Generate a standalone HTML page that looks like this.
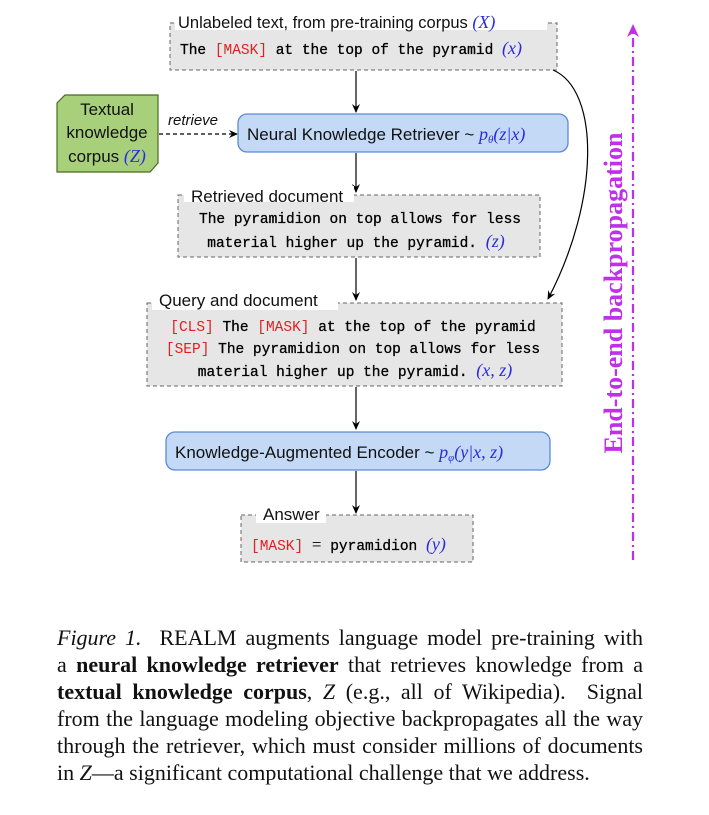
<!DOCTYPE html>
<html><head><meta charset="utf-8"><style>
body{margin:0;background:#fff;width:709px;height:815px;overflow:hidden;position:relative}
svg{position:absolute;left:0;top:0}
.cap{position:absolute;left:57px;width:586px;font-family:"Liberation Serif",serif;font-size:22px;color:#111;text-align:justify;text-align-last:justify;white-space:nowrap;line-height:27px}
</style></head><body>
<svg width="709" height="815" viewBox="0 0 709 815">
<defs>
<marker id="ah" markerWidth="10" markerHeight="10" refX="8" refY="5" orient="auto" markerUnits="userSpaceOnUse"><path d="M0,1 L9,5 L0,9 L3,5 Z" fill="#000"/></marker>
<marker id="ap" markerWidth="14" markerHeight="14" refX="11" refY="7" orient="auto" markerUnits="userSpaceOnUse"><path d="M0,1 L13,7 L0,13 L4,7 Z" fill="#c030e8"/></marker>
</defs>
<g font-family="Liberation Sans, sans-serif" font-size="16">
<rect x="170" y="23" width="387" height="47" fill="#e6e6e6" stroke="#666" stroke-dasharray="4,3"/>
<rect x="175" y="14" width="372" height="16" fill="#fff"/>
<text x="178" y="28" font-size="16.5" fill="#111">Unlabeled text, from pre-training corpus <tspan fill="#2a2ae0" font-family="Liberation Serif" font-style="italic" font-size="18">(X)</tspan></text>
<text x="180" y="54" font-family="Liberation Mono" font-size="14.5" fill="#000" stroke="#000" stroke-width="0.3">The <tspan fill="#e02020" stroke="none">[MASK]</tspan> at the top of the pyramid <tspan fill="#2a2ae0" stroke="none" font-family="Liberation Serif" font-style="italic" font-size="18">(x)</tspan></text>
<line x1="356" y1="71" x2="356" y2="112" stroke="#000" stroke-width="1.2" marker-end="url(#ah)"/>
<path d="M65,95 L158,95 L158,163 L150,172 L57,172 L57,103 Z" fill="#a8d07a" stroke="#4a6b22" stroke-width="1.2"/>
<text x="107" y="115" text-anchor="middle" font-size="17" fill="#111">Textual</text>
<text x="107" y="138" text-anchor="middle" font-size="17" fill="#111">knowledge</text>
<text x="107" y="162" text-anchor="middle" font-size="17" fill="#111">corpus <tspan fill="#2a2ae0" font-family="Liberation Serif" font-style="italic" font-size="18">(Z)</tspan></text>
<text x="168" y="125" font-style="italic" font-size="15" fill="#111">retrieve</text>
<line x1="159" y1="134" x2="237" y2="134" stroke="#000" stroke-width="1.2" stroke-dasharray="4,3" marker-end="url(#ah)"/>
<rect x="238" y="114" width="330" height="38" rx="9" fill="#c3d9f5" stroke="#5b8bd6" stroke-width="1.3"/>
<text x="247" y="140" font-size="17" fill="#111">Neural Knowledge Retriever ~ <tspan fill="#2a2ae0" font-family="Liberation Serif" font-style="italic" font-size="18">p<tspan font-size="11" dy="3">θ</tspan><tspan dy="-3">(z|x)</tspan></tspan></text>
<line x1="356" y1="153" x2="356" y2="192" stroke="#000" stroke-width="1.2" marker-end="url(#ah)"/>
<rect x="178" y="195" width="362" height="62" fill="#e6e6e6" stroke="#666" stroke-dasharray="4,3"/>
<rect x="184" y="186" width="170" height="16" fill="#fff"/>
<text x="191" y="202" font-size="17" fill="#111">Retrieved document</text>
<g font-family="Liberation Mono" font-size="14.5" fill="#000" stroke="#000" stroke-width="0.3">
<text x="360" y="223" text-anchor="middle">The pyramidion on top allows for less</text>
<text x="356" y="247" text-anchor="middle">material higher up the pyramid. <tspan fill="#2a2ae0" stroke="none" font-family="Liberation Serif" font-style="italic" font-size="18">(z)</tspan></text>
</g>
<line x1="356" y1="258" x2="356" y2="300" stroke="#000" stroke-width="1.2" marker-end="url(#ah)"/>
<rect x="147" y="303" width="415" height="83" fill="#e6e6e6" stroke="#666" stroke-dasharray="4,3"/>
<rect x="152" y="292" width="186" height="18" fill="#fff"/>
<text x="159" y="306" font-size="17" fill="#111">Query and document</text>
<g font-family="Liberation Mono" font-size="14.5" fill="#000" stroke="#000" stroke-width="0.3">
<text x="353" y="331" text-anchor="middle"><tspan fill="#e02020" stroke="none">[CLS]</tspan> The <tspan fill="#e02020" stroke="none">[MASK]</tspan> at the top of the pyramid</text>
<text x="353" y="353" text-anchor="middle"><tspan fill="#e02020" stroke="none">[SEP]</tspan> The pyramidion on top allows for less</text>
<text x="355" y="376" text-anchor="middle">material higher up the pyramid. <tspan fill="#2a2ae0" stroke="none" font-family="Liberation Serif" font-style="italic" font-size="18">(x, z)</tspan></text>
</g>
<line x1="356" y1="387" x2="356" y2="429" stroke="#000" stroke-width="1.2" marker-end="url(#ah)"/>
<rect x="166" y="432" width="384" height="38" rx="9" fill="#c3d9f5" stroke="#5b8bd6" stroke-width="1.3"/>
<text x="175" y="458" font-size="17" fill="#111">Knowledge-Augmented Encoder ~ <tspan fill="#2a2ae0" font-family="Liberation Serif" font-style="italic" font-size="18">p<tspan font-size="11" dy="3">φ</tspan><tspan dy="-3">(y|x, z)</tspan></tspan></text>
<line x1="356" y1="471" x2="356" y2="513" stroke="#000" stroke-width="1.2" marker-end="url(#ah)"/>
<rect x="241" y="515" width="232" height="47" fill="#e6e6e6" stroke="#666" stroke-dasharray="4,3"/>
<rect x="256" y="505" width="70" height="18" fill="#fff"/>
<text x="263" y="520" font-size="17" fill="#111">Answer</text>
<text x="251" y="550" font-family="Liberation Mono" font-size="14.5" fill="#000" stroke="#000" stroke-width="0.3"><tspan fill="#e02020" stroke="none">[MASK]</tspan> <tspan stroke="none" font-family="Liberation Serif" font-size="17">=</tspan> pyramidion <tspan fill="#2a2ae0" stroke="none" font-family="Liberation Serif" font-style="italic" font-size="18">(y)</tspan></text>
<path d="M553,70 C600,90 600,200 548,299" fill="none" stroke="#000" stroke-width="1.2" marker-end="url(#ah)"/>
<line x1="633" y1="560" x2="633" y2="26" stroke="#c030e8" stroke-width="2.2" stroke-dasharray="9,4,2,4" marker-end="url(#ap)"/>
<text transform="translate(622,293) rotate(-90)" text-anchor="middle" font-family="Liberation Serif" font-weight="bold" font-size="26" fill="#c030e8">End-to-end backpropagation</text>
</g>
</svg>
<div class="cap" style="top:624px"><i>Figure 1.</i>&nbsp; REALM augments language model pre-training with</div>
<div class="cap" style="top:651px">a <b>neural knowledge retriever</b> that retrieves knowledge from a</div>
<div class="cap" style="top:678px"><b>textual knowledge corpus</b>, <i>Z</i> (e.g., all of Wikipedia).&nbsp; Signal</div>
<div class="cap" style="top:705px">from the language modeling objective backpropagates all the way</div>
<div class="cap" style="top:732px">through the retriever, which must consider millions of documents</div>
<div class="cap" style="top:759px;text-align-last:left">in <i>Z</i>—a significant computational challenge that we address.</div>
</body></html>
